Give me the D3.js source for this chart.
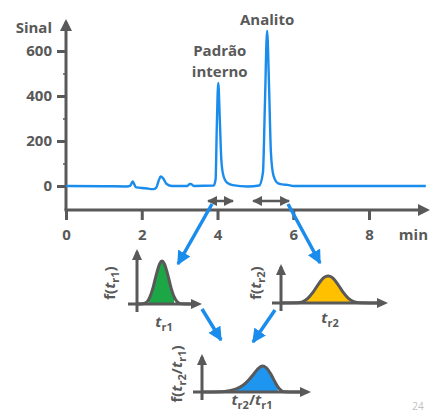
<!DOCTYPE html>
<html>
<head>
<meta charset="utf-8">
<script src="https://cdn.jsdelivr.net/npm/d3@7"></script>
<style>
  html, body { margin: 0; padding: 0; background: #ffffff; }
  svg { display: block; }
  text { font-family: "Open Sans", "Liberation Sans", sans-serif; font-weight: 700; fill: #595959; }
</style>
</head>
<body>
<div id="chart"></div>
<script>
// ---------- data ----------
const times  = [0, 1.0, 1.6, 1.70, 1.76, 1.80, 1.85, 2.1, 2.3, 2.38, 2.45, 2.50, 2.56, 2.65, 2.8, 3.2, 3.27, 3.31, 3.38, 3.9, 3.95, 3.98, 4.02, 4.06, 4.10, 4.15, 4.25, 4.4, 4.8, 5.1, 5.2, 5.25, 5.31, 5.36, 5.41, 5.48, 5.6, 5.75, 5.85, 6.0, 7.5, 9.5];
const signal = [0, -1, -2, 2, 20, 8, -6, -10, -14, -8, 25, 42, 35, 10, 0, 0, 9, 8, 0, 2, 30, 250, 458, 300, 120, 50, 15, 4, -2, 2, 60, 350, 690, 450, 150, 45, 12, 6, 5, 0, 0, 0];

const yTicks = [0, 200, 400, 600];
const yMinorTicks = [100, 300, 500];
const xTicks = [0, 2, 4, 6, 8];

const peakLabels = [
  { lines: ["Padrão", "interno"], t: 4.02 },
  { lines: ["Analito"], t: 5.31 }
];

// distribution sketches (position along axis 0..10, relative height 0..1)
const distU1 = [0, 0.9, 1.5, 2.0, 2.5, 3.0, 3.5, 3.85, 4.2, 4.7, 5.2, 5.7, 6.2, 6.9, 8.5];
const distV1 = [0, 0.005, 0.04, 0.17, 0.40, 0.70, 0.94, 1, 0.94, 0.70, 0.40, 0.17, 0.05, 0.005, 0];
const distU2 = [0, 1.5, 2.0, 2.5, 3.0, 3.5, 4.0, 4.4, 4.8, 5.3, 5.8, 6.3, 6.8, 7.4, 9.0];
const distV2 = [0, 0.005, 0.04, 0.17, 0.40, 0.70, 0.94, 1, 0.94, 0.70, 0.40, 0.17, 0.05, 0.005, 0];
const distU3 = [0, 1.7, 2.5, 3.2, 3.8, 4.3, 4.8, 5.2, 5.55, 5.9, 6.3, 6.7, 7.1, 7.5, 9.0];
const distV3 = [0, 0.01, 0.05, 0.13, 0.27, 0.47, 0.72, 0.92, 1, 0.93, 0.70, 0.38, 0.12, 0.01, 0];

// ---------- drawing ----------
const W = 433, H = 412;
const gray = "#595959", blue = "#1a8cec";
const svg = d3.select("#chart").append("svg").attr("width", W).attr("height", H);

const defs = svg.append("defs");
function marker(id, color, size) {
  defs.append("marker").attr("id", id)
    .attr("viewBox", "0 0 10 10").attr("refX", 9).attr("refY", 5)
    .attr("markerWidth", size).attr("markerHeight", size)
    .attr("markerUnits", "userSpaceOnUse")
    .attr("orient", "auto-start-reverse")
    .append("path").attr("d", "M0,0 L10,5 L0,10 Z").attr("fill", color);
}
marker("grayHead", gray, 10);
marker("blueHead", blue, 14);

// scales for chromatogram
const x = d3.scaleLinear().domain([0, 8]).range([66, 369]);
const y = d3.scaleLinear().domain([0, 600]).range([186, 51]);
const axisY = 210;

// y axis line with arrow
svg.append("line").attr("x1", x(0)).attr("x2", x(0)).attr("y1", axisY).attr("y2", 22)
  .attr("stroke", gray).attr("stroke-width", 3);
svg.append("path").attr("d", `M${x(0)},19 L${x(0) - 6},31 L${x(0) + 6},31 Z`).attr("fill", gray);
// x axis line with arrow
svg.append("line").attr("x1", x(0) - 1.5).attr("x2", 420).attr("y1", axisY).attr("y2", axisY)
  .attr("stroke", gray).attr("stroke-width", 3);
svg.append("path").attr("d", `M430,${axisY} L418,${axisY - 6} L418,${axisY + 6} Z`).attr("fill", gray);

// y ticks
const gy = svg.append("g").attr("transform", `translate(${x(0)},0)`)
  .call(d3.axisLeft(y).tickValues(yTicks).tickSize(9).tickPadding(5));
gy.select(".domain").remove();
gy.selectAll(".tick line").attr("stroke", gray).attr("stroke-width", 3);
gy.selectAll(".tick text").attr("fill", gray).style("font-size", "15px")
  .style("font-family", '"Open Sans", sans-serif').style("font-weight", 700);
const gym = svg.append("g").attr("transform", `translate(${x(0)},0)`)
  .call(d3.axisLeft(y).tickValues(yMinorTicks).tickSize(3).tickFormat(""));
gym.select(".domain").remove();
gym.selectAll(".tick line").attr("stroke", gray).attr("stroke-width", 1.5);

// x ticks
const gx = svg.append("g").attr("transform", `translate(0,${axisY})`)
  .call(d3.axisBottom(x).tickValues(xTicks).tickSize(10).tickPadding(9));
gx.select(".domain").remove();
gx.selectAll(".tick line").attr("stroke", gray).attr("stroke-width", 3);
gx.selectAll(".tick text").attr("fill", gray).style("font-size", "15px")
  .style("font-family", '"Open Sans", sans-serif').style("font-weight", 700);

// axis titles
svg.append("text").attr("x", 52).attr("y", 33).attr("text-anchor", "end")
  .style("font-size", "15px").text("Sinal");
svg.append("text").attr("x", 428).attr("y", 240).attr("text-anchor", "end")
  .style("font-size", "15px").text("min");

// chromatogram trace
const chrom = times.map((t, i) => [t, signal[i]]);
svg.append("path").datum(chrom)
  .attr("d", d3.line().x(d => x(d[0])).y(d => y(d[1])).curve(d3.curveMonotoneX))
  .attr("fill", "none").attr("stroke", blue).attr("stroke-width", 2.4)
  .attr("stroke-linejoin", "round");

// peak labels
svg.append("text").attr("x", x(4.02) + 1.5).attr("y", 56).attr("text-anchor", "middle")
  .style("font-size", "15px").text(peakLabels[0].lines[0]);
svg.append("text").attr("x", x(4.02) + 1.5).attr("y", 77).attr("text-anchor", "middle")
  .style("font-size", "15px").text(peakLabels[0].lines[1]);
svg.append("text").attr("x", x(5.31)).attr("y", 25).attr("text-anchor", "middle")
  .style("font-size", "15px").text(peakLabels[1].lines[0]);

// double-headed range arrows
function dbl(t0, t1) {
  svg.append("line").attr("x1", x(t0)).attr("x2", x(t1)).attr("y1", 201).attr("y2", 201)
    .attr("stroke", gray).attr("stroke-width", 2.5)
    .attr("marker-start", "url(#grayHead)").attr("marker-end", "url(#grayHead)");
}
dbl(3.75, 4.41);
dbl(4.94, 5.89);

// blue arrows
function blueArrow(x1, y1, x2, y2) {
  svg.append("line").attr("x1", x1).attr("y1", y1).attr("x2", x2).attr("y2", y2)
    .attr("stroke", blue).attr("stroke-width", 3.5)
    .attr("marker-end", "url(#blueHead)");
}
blueArrow(212, 204, 178, 264);
blueArrow(288, 204, 320, 263);
blueArrow(202, 309, 221, 340);
blueArrow(275, 310, 253, 342);

// distribution sketch
function sketch(opts) {
  const { u, v, x0, x1, y0, h, fillFrom, fillTo, color, id } = opts;
  const xs = d3.scaleLinear().domain([0, 10]).range([x0, x1]);
  const ys = d3.scaleLinear().domain([0, 1]).range([y0, y0 - h]);
  const pts = u.map((d, i) => [d, v[i]]);
  defs.append("clipPath").attr("id", id).append("rect")
    .attr("x", xs(fillFrom)).attr("y", 0).attr("width", xs(fillTo) - xs(fillFrom)).attr("height", H);
  svg.append("path").datum(pts)
    .attr("d", d3.area().x(d => xs(d[0])).y0(y0).y1(d => ys(d[1])).curve(d3.curveMonotoneX))
    .attr("fill", color).attr("clip-path", `url(#${id})`);
  // axes
  svg.append("line").attr("x1", x0).attr("x2", x0).attr("y1", y0 + 8).attr("y2", y0 - h - 9)
    .attr("stroke", gray).attr("stroke-width", 3);
  svg.append("path").attr("d", `M${x0},${y0 - h - 12} L${x0 - 5},${y0 - h - 1} L${x0 + 5},${y0 - h - 1} Z`).attr("fill", gray);
  svg.append("line").attr("x1", x0 - 9).attr("x2", x1 - 6).attr("y1", y0).attr("y2", y0)
    .attr("stroke", gray).attr("stroke-width", 3);
  svg.append("path").attr("d", `M${x1},${y0} L${x1 - 11},${y0 - 5} L${x1 - 11},${y0 + 5} Z`).attr("fill", gray);
  svg.append("path").datum(pts)
    .attr("d", d3.line().x(d => xs(d[0])).y(d => ys(d[1])).curve(d3.curveMonotoneX))
    .attr("fill", "none").attr("stroke", gray).attr("stroke-width", 3).attr("stroke-linejoin", "round");
}
sketch({ u: distU1, v: distV1, x0: 137, x1: 202, y0: 304, h: 43, fillFrom: 1.85, fillTo: 5.7, color: "#1ca645", id: "c1" });
sketch({ u: distU2, v: distV2, x0: 281, x1: 388, y0: 303, h: 27, fillFrom: 2.35, fillTo: 6.45, color: "#ffc000", id: "c2" });
sketch({ u: distU3, v: distV3, x0: 202, x1: 311, y0: 392, h: 26, fillFrom: 3.05, fillTo: 6.95, color: "#1e96f0", id: "c3" });

// labels with subscripts
function subLabel(xp, yp, parts, rotate) {
  const t = svg.append("text").attr("text-anchor", "middle")
    .attr("transform", `translate(${xp},${yp})` + (rotate ? " rotate(-90)" : ""))
    .style("font-size", "15px");
  parts.forEach(p => {
    const ts = t.append("tspan").text(p.s);
    if (p.it) ts.style("font-style", "italic");
    if (p.sub) ts.style("font-size", "11px").attr("dy", 4);
    if (p.up) ts.attr("dy", -4);
  });
}
subLabel(115, 283, [{ s: "f(" }, { s: "t", it: true }, { s: "r1", sub: true }, { s: ")", up: true }], true);
subLabel(164, 327, [{ s: "t", it: true }, { s: "r1", sub: true }], false);
subLabel(261, 283, [{ s: "f(" }, { s: "t", it: true }, { s: "r2", sub: true }, { s: ")", up: true }], true);
subLabel(330, 323, [{ s: "t", it: true }, { s: "r2", sub: true }], false);
subLabel(182, 374, [{ s: "f(" }, { s: "t", it: true }, { s: "r2", sub: true }, { s: "/", up: true }, { s: "t", it: true }, { s: "r1", sub: true }, { s: ")", up: true }], true);
subLabel(252, 405, [{ s: "t", it: true }, { s: "r2", sub: true }, { s: "/", up: true }, { s: "t", it: true }, { s: "r1", sub: true }], false);

// page number
svg.append("text").attr("x", 418).attr("y", 410).attr("text-anchor", "middle")
  .style("font-size", "10px").style("font-weight", 400).style("fill", "#bfbfbf").text("24");
</script>
</body>
</html>
